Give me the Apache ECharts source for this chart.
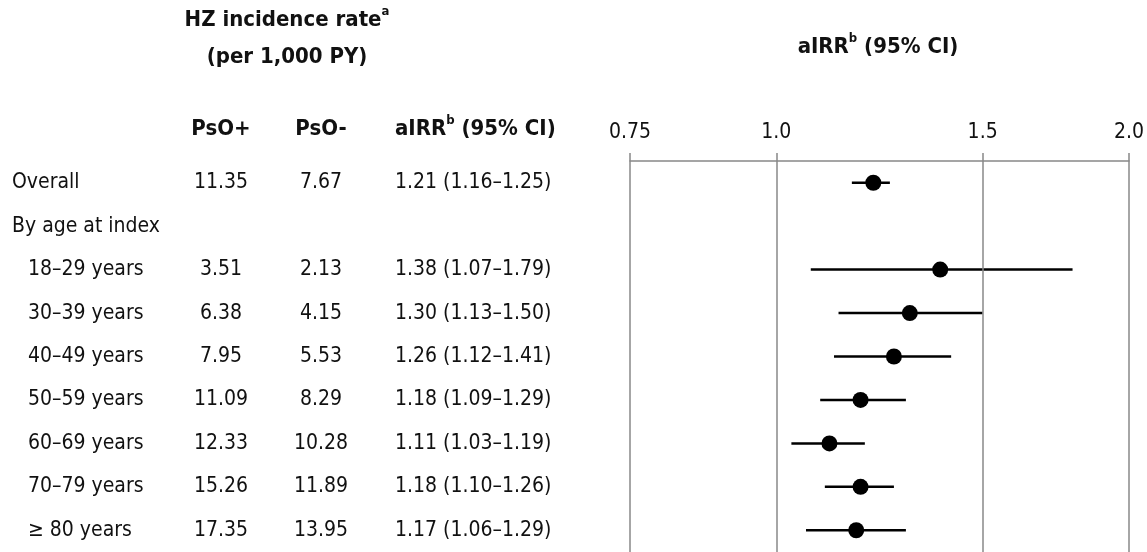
<!DOCTYPE html>
<html>
<head>
<meta charset="utf-8">
<script src="https://cdn.jsdelivr.net/npm/echarts@6/dist/echarts.min.js"></script>
<style>
html,body{margin:0;padding:0;background:#fff;}
#chart{width:1147px;height:552px;}
</style>
</head>
<body>
<div id="chart"></div>
<script>
const rows = ['Overall','By age at index','18–29 years','30–39 years','40–49 years','50–59 years','60–69 years','70–79 years','≥ 80 years'];
const indented = [0,0,1,1,1,1,1,1,1];
const psoPlus = ['11.35','','3.51','6.38','7.95','11.09','12.33','15.26','17.35'];
const psoMinus = ['7.67','','2.13','4.15','5.53','8.29','10.28','11.89','13.95'];
const airr = [1.21,null,1.38,1.30,1.26,1.18,1.11,1.18,1.17];
const ciLow = [1.16,null,1.07,1.13,1.12,1.09,1.03,1.10,1.06];
const ciHigh = [1.25,null,1.79,1.50,1.41,1.29,1.19,1.26,1.29];
const xTicks = [0.75,1.0,1.5,2.0];
const xTickLabels = ['0.75','1.0','1.5','2.0'];

const FONT = '"DejaVu Sans Condensed", "Liberation Sans Narrow", sans-serif';
const FS = 21;
const airrText = airr.map((v,i)=> v==null ? '' : v.toFixed(2)+' ('+ciLow[i].toFixed(2)+'–'+ciHigh[i].toFixed(2)+')');

const chart = echarts.init(document.getElementById('chart'), null, {renderer:'canvas'});

function yAx(margin, align, fmt, rich){
  const ax = {
    type:'category', data: rows, inverse:true, position:'left', gridIndex:0,
    axisLine:{show:false}, axisTick:{show:false}, splitLine:{show:false},
    axisLabel:{show:true, interval:0, margin:margin, align:align, color:'#111',
      fontFamily:FONT, fontSize:FS, formatter:fmt}
  };
  if (rich) ax.axisLabel.rich = rich;
  return ax;
}

const errData = [];
const ptData = [];
rows.forEach((r,i)=>{
  if (airr[i]!=null){
    errData.push([ciLow[i], ciHigh[i], i]);
    ptData.push([airr[i], i]);
  }
});

const boldRich = {
  b:{fontFamily:FONT, fontWeight:'bold', fontSize:FS+1, lineHeight:30, fill:'#111', color:'#111'},
  sup:{fontFamily:FONT, fontWeight:'bold', fontSize:13, verticalAlign:'top', lineHeight:30, fill:'#111', color:'#111'}
};
function hdr(x, y, text, align){
  return {type:'text', x:x, y:y, silent:true,
    style:{text:text, align:align||'center', verticalAlign:'middle', rich:boldRich,
      font:'bold '+(FS+1)+'px '+FONT, fill:'#111'}};
}

const option = {
  animation:false,
  backgroundColor:'#fff',
  grid:{left:630, right:14, top:161, height:398, containLabel:false},
  xAxis:{
    type:'log', min:0.75, max:2, position:'top', logBase:10,
    axisLine:{show:true, lineStyle:{color:'#888', width:1.5}},
    axisTick:{show:true, inside:false, length:8, customValues:xTicks, lineStyle:{color:'#888', width:1.5}},
    axisLabel:{show:true, customValues:xTicks, margin:18, color:'#111', fontFamily:FONT, fontSize:FS,
      formatter:function(v){
        let best=0, d=Infinity;
        xTicks.forEach((t,k)=>{ if(Math.abs(t-v)<d){d=Math.abs(t-v);best=k;} });
        return xTickLabels[best];
      }},
    splitLine:{show:false}
  },
  yAxis:[
    yAx(618,'left',function(v,i){ return indented[i] ? '{ind|}'+'{t|'+v+'}' : '{t|'+v+'}'; },
      {ind:{width:16}, t:{fontFamily:FONT, fontSize:FS, color:'#111'}}),
    yAx(409,'center',function(v,i){ return psoPlus[i]; }),
    yAx(309,'center',function(v,i){ return psoMinus[i]; }),
    yAx(235,'left',function(v,i){ return airrText[i]; })
  ],
  series:[
    {
      type:'custom', name:'ci', xAxisIndex:0, yAxisIndex:0,
      data: errData,
      encode:{x:[0,1], y:2},
      renderItem:function(params, api){
        const yi = api.value(2);
        const p1 = api.coord([api.value(0), yi]);
        const p2 = api.coord([api.value(1), yi]);
        return {type:'line', shape:{x1:p1[0], y1:p1[1], x2:p2[0], y2:p2[1]},
          style:{stroke:'#000', lineWidth:2.5}};
      },
      z:3
    },
    {
      type:'scatter', name:'aIRR', xAxisIndex:0, yAxisIndex:0,
      data: ptData, symbol:'circle', symbolSize:16,
      itemStyle:{color:'#000', opacity:1}, z:4,
      markLine:{
        silent:true, symbol:['none','none'], label:{show:false},
        lineStyle:{color:'#888', width:1.5, type:'solid'},
        data: xTicks.map(t=>({xAxis:t}))
      }
    }
  ],
  graphic:[
    hdr(287, 20, '{b|HZ incidence rate}{sup|a}'),
    hdr(287, 57, '{b|(per 1,000 PY)}'),
    hdr(878, 47, '{b|aIRR}{sup|b}{b| (95% CI)}'),
    hdr(221, 129, '{b|PsO+}'),
    hdr(321, 129, '{b|PsO-}'),
    hdr(395, 129, '{b|aIRR}{sup|b}{b| (95% CI)}', 'left')
  ]
};
chart.setOption(option);
</script>
</body>
</html>
